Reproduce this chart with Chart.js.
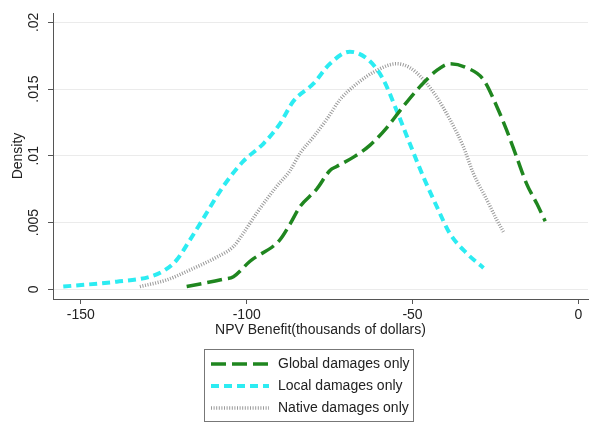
<!DOCTYPE html>
<html>
<head>
<meta charset="utf-8">
<script src="https://cdn.jsdelivr.net/npm/chart.js@4/dist/chart.umd.min.js"></script>
<style>
  body { margin: 0; background: #fff; }
  canvas { display: block; }
</style>
</head>
<body>
<canvas id="chart" width="591" height="424"></canvas>
<script>
  // Data (NPV benefit in thousands of dollars, kernel density)
  const globalX = [-118.1, -107.1, -104.0, -99.0, -90.0, -86.9, -83.9, -78.9, -74.9, -72.9, -67.8, -62.8, -57.8, -52.8, -47.7, -42.7, -38.7, -33.7, -28.6, -24.6, -21.6, -18.6, -15.6, -12.5, -10.0];
  const globalY = [0.0002, 0.00075, 0.00094, 0.0021, 0.0037, 0.0049, 0.0062, 0.0075, 0.0089, 0.0092, 0.0099, 0.0108, 0.0121, 0.0137, 0.0152, 0.0164, 0.0169, 0.0166, 0.0157, 0.0137, 0.0119, 0.0099, 0.0079, 0.0064, 0.0051];

  const localX = [-155.3, -139.2, -129.2, -124.6, -121.1, -117.1, -113.1, -107.1, -101.0, -95.0, -90.0, -85.9, -79.9, -74.9, -68.9, -62.9, -58.8, -54.8, -50.8, -46.7, -42.7, -38.8, -33.7, -28.6];
  const localY = [0.0002, 0.00057, 0.00094, 0.00145, 0.0022, 0.0037, 0.0053, 0.0077, 0.0096, 0.0109, 0.0124, 0.0141, 0.0154, 0.0169, 0.0178, 0.0171, 0.0157, 0.0134, 0.0109, 0.0084, 0.0062, 0.0042, 0.0027, 0.0016];

  const nativeX = [-132.2, -124.1, -117.1, -109.1, -104.0, -101.0, -97.0, -91.0, -86.9, -83.9, -79.9, -75.4, -71.9, -66.8, -60.8, -54.8, -50.8, -46.7, -42.7, -38.7, -34.7, -31.7, -27.6, -24.6, -22.6];
  const nativeY = [0.0002, 0.0007, 0.00145, 0.0024, 0.0032, 0.0042, 0.0057, 0.0077, 0.0089, 0.0102, 0.0114, 0.0129, 0.0142, 0.0154, 0.0164, 0.0169, 0.0166, 0.0157, 0.0144, 0.0127, 0.0107, 0.0087, 0.0067, 0.0052, 0.0043];

  const seriesNames = ['Global damages only', 'Local damages only', 'Native damages only'];

  const xTicks = [-150, -100, -50, 0];
  const yTicks = [0, 0.005, 0.01, 0.015, 0.02];
  const yTickLabels = ['0', '.005', '.01', '.015', '.02'];

  const FONT = '"Liberation Sans", Arial, Helvetica, sans-serif';
  const TEXT = '#222';

  const pts = (xs, ys) => xs.map((x, i) => ({ x: x, y: ys[i] }));

  // Stata-style boxed legend below the plot
  const boxLegend = {
    id: 'boxLegend',
    afterDraw(chart) {
      const ctx = chart.ctx;
      const left = 204, top = 349, right = 413, bottom = 421;
      const rows = [364, 386, 408];
      ctx.save();
      ctx.strokeStyle = '#777';
      ctx.lineWidth = 1;
      ctx.setLineDash([]);
      ctx.strokeRect(left + 0.5, top + 0.5, right - left, bottom - top);
      chart.data.datasets.forEach((ds, i) => {
        const y = rows[i];
        ctx.beginPath();
        ctx.strokeStyle = ds.borderColor;
        ctx.lineWidth = ds.borderWidth;
        ctx.setLineDash(ds.borderDash);
        ctx.moveTo(211, y);
        ctx.lineTo(269, y);
        ctx.stroke();
        ctx.setLineDash([]);
        ctx.fillStyle = TEXT;
        ctx.font = '14px ' + FONT;
        ctx.textAlign = 'left';
        ctx.textBaseline = 'middle';
        ctx.fillText(ds.label, 278, y);
      });
      ctx.restore();
    }
  };

  new Chart(document.getElementById('chart'), {
    type: 'line',
    data: {
      datasets: [
        {
          label: seriesNames[0],
          data: pts(globalX, globalY),
          borderColor: '#1f861f',
          borderWidth: 3.5,
          borderDash: [15, 6],
          pointRadius: 0,
          cubicInterpolationMode: 'monotone',
          fill: false
        },
        {
          label: seriesNames[1],
          data: pts(localX, localY),
          borderColor: '#2cecf2',
          borderWidth: 4,
          borderDash: [8, 5],
          pointRadius: 0,
          cubicInterpolationMode: 'monotone',
          fill: false
        },
        {
          label: seriesNames[2],
          data: pts(nativeX, nativeY),
          borderColor: '#9a9a9a',
          borderWidth: 3.5,
          borderDash: [1, 1.6],
          pointRadius: 0,
          cubicInterpolationMode: 'monotone',
          fill: false
        }
      ]
    },
    options: {
      responsive: false,
      animation: false,
      devicePixelRatio: 1,
      layout: { padding: { top: 13, right: 3, left: 0, bottom: 85 } },
      plugins: {
        legend: { display: false },
        tooltip: { enabled: false }
      },
      scales: {
        x: {
          type: 'linear',
          min: -158.4,
          max: 2.9,
          afterBuildTicks: s => { s.ticks = xTicks.map(v => ({ value: v })); },
          afterFit: s => { s.height = 40; },
          border: { color: '#555', width: 1 },
          grid: { display: true, drawOnChartArea: false, drawTicks: true, tickLength: 5, color: '#555' },
          ticks: {
            padding: 3,
            color: TEXT,
            font: { family: FONT, size: 14 },
            maxRotation: 0,
            callback: v => String(v)
          },
          title: {
            display: true,
            text: 'NPV Benefit(thousands of dollars)',
            color: TEXT,
            font: { family: FONT, size: 14 },
            padding: { top: 0, bottom: 0 }
          }
        },
        y: {
          type: 'linear',
          min: -0.00073,
          max: 0.0207,
          afterBuildTicks: s => { s.ticks = yTicks.map(v => ({ value: v })); },
          afterFit: s => { s.width = 53; },
          border: { color: '#555', width: 1 },
          grid: { color: '#ebebeb', tickColor: '#555', tickLength: 5, lineWidth: 1 },
          ticks: {
            padding: 0,
            crossAlign: 'center',
            minRotation: 90,
            maxRotation: 90,
            color: TEXT,
            font: { family: FONT, size: 14 },
            callback: (v, i) => yTickLabels[i]
          },
          title: {
            display: true,
            text: 'Density',
            color: TEXT,
            font: { family: FONT, size: 14 },
            padding: { top: 10, bottom: 0 }
          }
        }
      }
    },
    plugins: [boxLegend]
  });
</script>
</body>
</html>
